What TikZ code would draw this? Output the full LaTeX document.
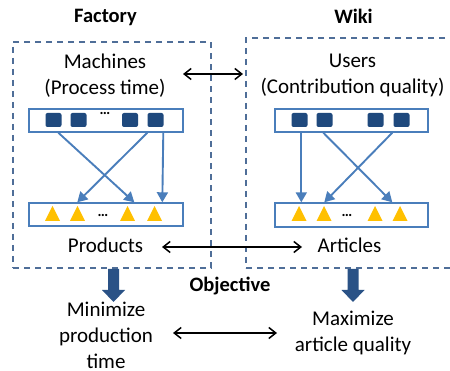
\documentclass[tikz,border=0pt]{standalone}
\usepackage{fontspec}
\setmainfont{Carlito}
\usetikzlibrary{arrows.meta}
\definecolor{boxc}{HTML}{4F6E98}
\definecolor{barc}{HTML}{4A7EBB}
\definecolor{sq}{HTML}{1F497D}
\definecolor{tri}{HTML}{FFC000}
\definecolor{blk}{HTML}{2A5286}
\begin{document}
\begin{tikzpicture}[x=1pt,y=-1pt,
 lbl/.style={font=\fontsize{21}{26}\selectfont, align=center, inner sep=0pt},
 ttl/.style={font=\fontsize{20.5}{25}\selectfont\bfseries, inner sep=0pt},
 region/.style={draw=boxc, dash pattern=on 6pt off 5pt, line width=1.5pt, inner sep=0pt},
 bar/.style={draw=barc, line width=1.4pt, fill=white, minimum width=154pt, minimum height=23pt, inner sep=0pt},
 sqr/.style={fill=sq, rounded corners=2pt, minimum width=16pt, minimum height=14pt, inner sep=0pt},
 dots/.style={font=\fontsize{15}{15}\selectfont\bfseries, inner sep=0pt},
 flow/.style={draw=barc, line width=1.9pt, -{Triangle[length=10pt,width=11pt]}},
 dbl/.style={line width=1.5pt, {Straight Barb[length=7pt,width=11pt]}-{Straight Barb[length=7pt,width=11pt]}},
 bigarrow/.style={fill=blk}
]
\clip (0,0) rectangle (450,371);
\fill[white] (0,0) rectangle (450,371);

% regions
\node[region, minimum width=198pt, minimum height=226pt] (fbox) at (112,155) {};
\node[region, minimum width=210pt, minimum height=230pt] (wbox) at (351,153) {};

% titles
\node[ttl, anchor=base] (factory) at (105.5,23) {Factory};
\node[ttl, anchor=base] (wiki) at (353.5,24) {Wiki};
\node[ttl, anchor=base] (obj) at (230,292) {Objective};

% labels
\node[lbl] (mach) at (105,75.5) {Machines\\(Process time)};
\node[lbl] (users) at (352.5,75.5) {Users\\(Contribution quality)};
\node[lbl, anchor=base] (prod) at (105.5,253) {Products};
\node[lbl, anchor=base] (art) at (349.5,253) {Articles};
\node[lbl] (mini) at (106,335.5) {Minimize\\production\\time};
\node[lbl] (maxi) at (353,333) {Maximize\\article quality};

% bars
\node[bar] (mbar) at (106,120.5) {};
\node[bar] (pbar) at (106,214.5) {};
\node[bar, minimum width=153pt] (ubar) at (351.5,120.5) {};
\node[bar, minimum width=153pt, minimum height=24pt] (abar) at (351.5,215) {};

% squares
\node[sqr] (m1) at (53.5,120) {};
\node[sqr] (m2) at (78.5,120) {};
\node[dots] (md) at (105,113) {…};
\node[sqr] (m3) at (130,120) {};
\node[sqr] (m4) at (155.5,120) {};
\node[sqr] (u1) at (299.5,120) {};
\node[sqr] (u2) at (324.5,120) {};
\node[sqr] (u3) at (375.5,120) {};
\node[sqr] (u4) at (401.5,120) {};

% triangles
\foreach \x in {52.5,77.5,127.5,154.5,299,324,375,400}
  \fill[tri] (\x-7.5,221) -- (\x+7.5,221) -- (\x,206) -- cycle;
\node[dots] (pd) at (103,215) {…};
\node[dots] (ad) at (347,215) {…};

% flows
\draw[flow] ([xshift=30pt]mbar.south west) -- ([xshift=106pt]pbar.north west);
\draw[flow] ([xshift=119pt]mbar.south west) -- ([xshift=49pt]pbar.north west);
\draw[flow] ([xshift=135pt]mbar.south west) -- ([xshift=134pt]pbar.north west);
\draw[flow] ([xshift=27pt]ubar.south west) -- ([xshift=27pt]abar.north west);
\draw[flow] ([xshift=49pt]ubar.south west) -- ([xshift=118pt]abar.north west);
\draw[flow] ([xshift=118pt]ubar.south west) -- ([xshift=50pt]abar.north west);

% double arrows
\coordinate (c1) at (183,74);
\coordinate (c2) at (243,74);
\coordinate (c3) at (162,247);
\coordinate (c4) at (302,247);
\coordinate (c5) at (173,333);
\coordinate (c6) at (277,333);
\draw[dbl] (c1) -- (c2);
\draw[dbl] (c3) -- (c4);
\draw[dbl] (c5) -- (c6);

% block arrows
\coordinate (la) at (113.5,269);
\coordinate (ra) at (353,269);
\foreach \c in {la,ra}
  \fill[bigarrow] (\c) ++(-5.5,0) -- ++(11,0) -- ++(0,21) -- ++(6,0) -- ++(-11.5,12) -- ++(-11.5,-12) -- ++(6,0) -- cycle;
\end{tikzpicture}
\end{document}
